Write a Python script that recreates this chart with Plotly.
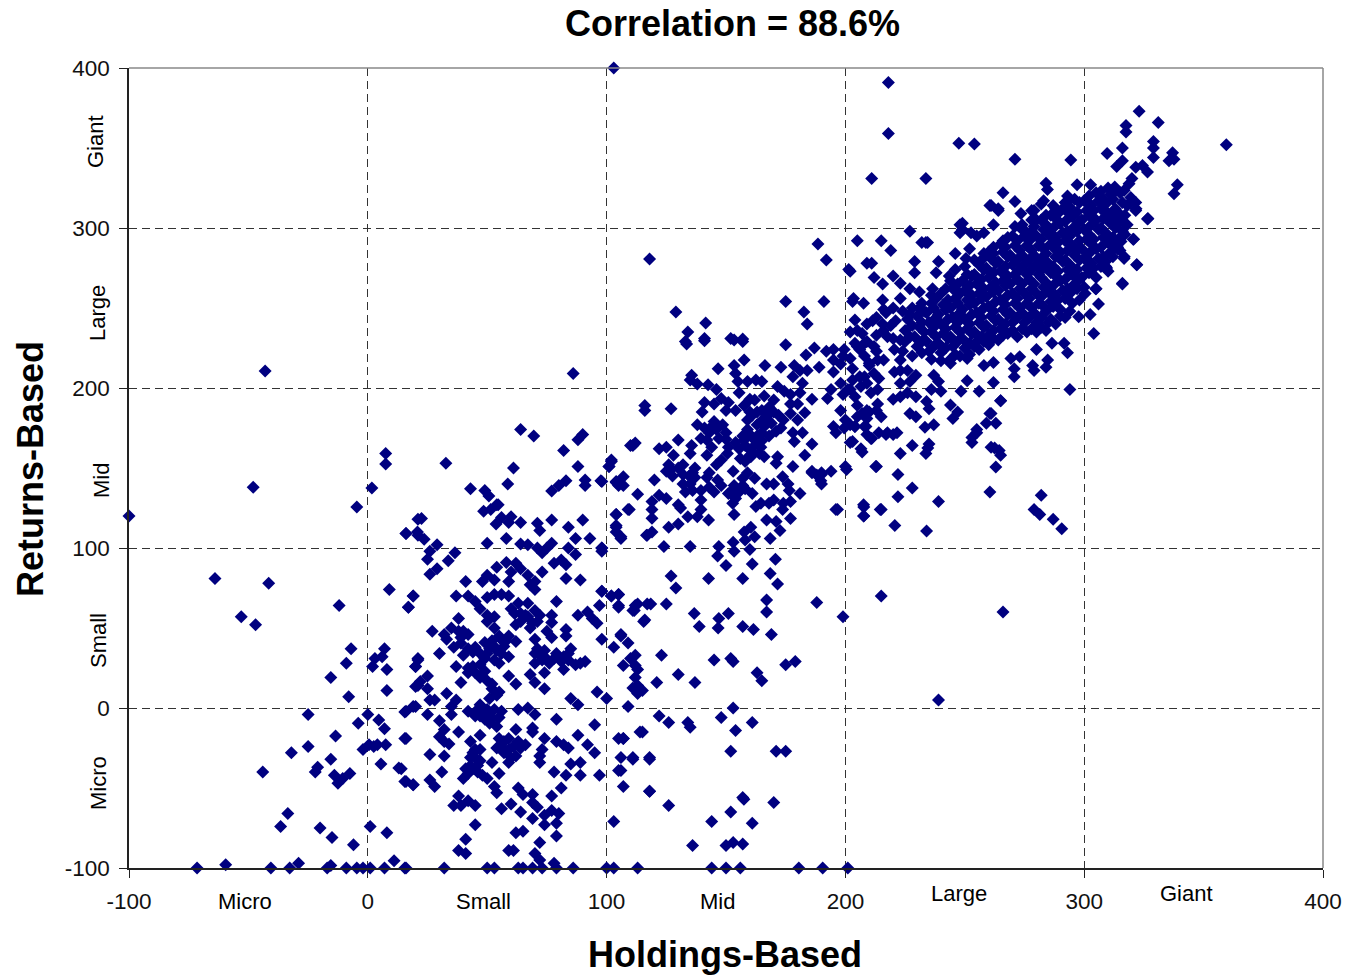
import plotly.graph_objects as go

title_text = "Correlation = 88.6%"
x_title = "Holdings-Based"
y_title = "Returns-Based"
tick_values = [-100, 0, 100, 200, 300, 400]
x_size_labels = ["Micro", "Small", "Mid", "Large", "Giant"]
y_size_labels = ["Micro", "Small", "Mid", "Large", "Giant"]

# (holdings-based, returns-based) readings, grouped by area of the chart
micro_funds = [
(-100,120),(-4.6,125.6),(16,109),(21,108),(21,118),(-64,81),(-41.5,78),(9,74),(19,70),(17,63),(-12,64),(-53,57),(-47,52),
(-7,37),(7,37),(6,32),(3,31),(2,26),(-9,28),(8,24),(-15.5,19),(21,30),(20,26),(21,14),(8,11),(-8,7),(20,1),(15.5,-2.5),
(-25,-4),(0,-4),(4.6,-7.5),(-4,-9.5),(7,-13),(-13.5,-17.5),(15.5,-19),(-25,-24),(-32,-28),(0.5,-23),(-2,-26),(2.5,-24),
(4,-23),(7.5,-23),(-15.5,-32),(-21,-37),(-22,-40),(5.5,-35),(13,-37.5),(-44,-40),(-14,-42),(-7.5,-41),(-10.5,-44),
(-12.5,-47),(15.5,-46),(19,-48),(-33.5,-66),(-36.5,-74),(-20,-75),(-15,-81),(1,-74),(8,-78),(-6,-85.5),(11,-95.5),
(-29,-97),(-59.5,-98),(-71.5,-100),(-40.6,-100),(-32.7,-100),(-17,-100),(-15.5,-98.5),(-9,-100),(-4.6,-100),(-2,-100),
(1,-100),(7,-100),(15.5,-100),(-43,210.6),(-48,138),(7.5,159),(7.5,152.5),(1.7,137.5),(32.7,153),
]

small_funds = [
(54.6,127),(48.5,123),(22.5,118.5),(16,109),(20.8,110),(23.6,105.5),(29,102),(26,98),(25,93),(36.5,97),(33.7,92),(29,87),(26,83.6),
(53.7,115),(56,119),(60,119.6),(59,116),(64,116),(71,115.4),(72,111),(77,117.5),(84,113),(90,117.5),(50,103),(58,106),(64,102.5),
(67,102),(71,100),(73,97),(77,103),(75,100),(84,100),(87,106),(93,106),(87,96),(98,100),(98,98),(104,121),(109,124),(104,114),
(104,110),(106,106),(117,108),(58,91),(54,88),(62,90.5),(64,87),(50,83),(48,79),(53,80),(60,85),(59,79),(67,83),(70,79),(68,77),
(70,74),(73,85),(78,90.5),(81,92.5),(83,89.5),(83,81),(89,80),(41,79),(19,70),(17,63),(37,70),(42,70),(45,66.6),(47,62),(50,69),
(53,71),(56,71),(59,70),(63,65.5),(67,65.5),(61.5,59),(64,59),(70,61),(72,58),(62,52),(68,50),(71,54),(79,66.5),(98,73),(102,70),
(105,71),(105,63),(97,64),(112,64),(111,61),(117,65),(116,55),(88,58),(92,60),(94,56),(96,53),(77,58),(77,53.5),(75,48),(77,44),
(83,49),(83,45),(50,58),(53,57),(50,54),(53,50),(38,56),(27,48),(35,50),(32,46),(40,48),(42,46),(36,38),(39,40.5),(42,37),(45,38),
(40,33),(47,34),(49,31),(56,42.6),(59,45),(62,41.6),(53,38.5),(57,38.5),(56,34),(59,32),(55,28),(30,34),(21,31),(20,26),(37,26),
(42,25),(45,22),(49,23),(47,19),(59,20),(62,15),(39,16),(70,43),(70,34),(72,33),(70,28),(74,32),(76,28),(79,34),(82,32),(85,37),
(84,30),(87,27),(91,29),(89,28),(82,24),(74,22),(68,21),(70,16),(74,12),(98,43),(103,38),(106,45),(109,40.6),(112,33),(107,26.5),
(112,26.5),(112,19),(111,12.5),(113,9),(96,10),(100,6),(109,1),(85,6),(88,2),(25,20),(22,16.5),(20,13.5),(25,12),(33,9),(26,5),
(28,5),(19,1),(16,-2),(25,-4),(37,5),(35,1),(35,-4),(30,-8),(52,12),(55,10),(51,6),(47,2),(42,-2),(45,-5),(48,-3),(51,-5),(53,-1),
(56,-2),(51,-9.5),(54,-11.5),(63,-1),(67,0),(70,-4),(79,-7),(95,-10.5),(69,-12.5),(69,-15),(62,-13.5),(32,-13.5),(38,-15),(30,-18),
(32,-21),(34,-22.5),(47,-17),(43,-21),(55,-19),(59,-19),(54,-25),(59,-26),(63,-21),(66,-23),(62,-30),(59,-34),(16,-19),(74,-19),
(73,-26),(72,-30),(72,-34),(79,-21),(82,-23),(84,-25),(88,-17),(92,-23),(95,-28),(105,-19),(107,-19),(114,-15),(111,-32),(105,-39),
(118,-31),(26,-29),(32,-30),(45,-26),(45,-31),(43,-36),(46,-36),(52,-34),(55,-41),(42,-41),(40,-44),(48,-42),(50,-44),(31,-40),
(14,-38),(16,-46),(19,-48),(26,-45),(28,-49),(85,-35),(89,-34),(78,-40),(83,-42),(89,-42),(97,-42),(107,-49),(118,-52),(53,-49),
(54,-53),(63,-50),(65,-54),(69,-54),(69,-59),(71,-62),(81,-50),(77,-55),(38,-55),(36,-61),(39,-61),(42,-58),(45,-61),(56,-63),
(60,-60),(64,-65),(69,-69),(74,-67),(77,-64),(80,-66),(74,-73),(79,-72),(103,-71),(45,-73),(41,-82),(38,-89),(41,-91),(62,-78),
(65,-77),(79,-80),(72,-84),(59,-89),(61,-89),(70,-91),(72,-95),(16,-100),(32,-100),(50,-100),(53,-100),(63,-100),(65,-100),(69,-100),
(73,-100),(78,-97),(79,-100),(86,-100),(100,-100),(103,-100),(113,-100),(43,137),(49,136),(50.7,132.5),(54,127),(51.5,124),
(61,150),(58.6,140),(64,174),(69.5,170),(82,161),(88,151),(90,171),(88,167.6),(83,142),(80,139),(77,135.6),(91,142.5),(91,139),
(97.6,142),(102,154),(101,151),(110,164),(112,165.6),(104,141),(107,139),(86,209),
]

small_blobs = [
(52,42),(55,45),(58,42),(54,36),(51,37),(49,41),(50,34),(53,30),(44,-28),(47,-33),(44,-38),(41,-38),(46,-40),(43,-31),(47,-26),
(56,-24),(57,-28),(61,-24),(57,-21),(64,-25),(60,-31),(66,58),(60,62),(64,54),(67,57),(69,53),(73,30),(71,37),(74,36),(78,31),(81,29),(84,34),
(39,44),(44,35),(38,48),(33,43),(46,-1),(50,-1),(52,-7),(55,-6),(49,-7),(47,-5),(42,22),(44,26),(47,27),(50,17),(52,15),(54,8),
]

mid_funds = [
(133.5,227.5),(141,229.6),(153.4,230),(157,229),(175,227),(157.6,217.5),(153.4,214),(146.7,212),(135.6,208),(166.3,214),(173,213),
(178.6,214),(181,211),(184,211),(189,213),(178,207),(182,203),(183.5,220.6),(187,225),(192,223),(195,224),(199.5,224),(204,228),
(198,215),(202,218.5),(195,217.5),(209,229),(208,220),(213.5,217.5),(212,209),(206,207),(209,203),(198,203),(201,199),(194,199),
(192.5,193.5),(204,194.6),(210.7,197),(213.5,199),(213.5,190),(198,186),(200,180),(205,182),(210,185),(195,176),(196,172),(199.5,175),
(204,176),(208.6,176),(211,168.5),(202,166),(207,160),(213,151),(200.5,149),(154,209),(155,204),(159,204),(162.5,205),(165,204),
(138,202.5),(142.5,202),(146,199),(155.5,197),(171.6,201),(174.4,198),(181,197),(186,193),(148,193.5),(145,190),(141,191),(140,185),
(150,186),(154,186),(157.6,189),(162,192.5),(166,195),(170,192.5),(177,190),(177,184),(183,184.6),(180,180),(170,185),(167,182),
(163,185),(159,180),(174,180),(173,175),(171,173),(178,172),(182,172),(178.6,166.5),(168,170),(164.6,179),(138,177),(141,175),(145,179),
(148.6,177),(139.5,168.5),(142,167.5),(147,168.5),(150,168),(144,163),(159,174),(157.6,167.5),(162,167.5),(155.5,162),(160.4,161),
(164.6,163),(166,157),(156,156),(160.4,157),(130,167.5),(135.6,164),(111,164),(122,162),(125,163),(128,158),(135,159),(142,158),
(148,155),(150.6,159),(146,152),(171.6,157),(171,153),(183,158),(186,165),(178,151),(186,148),(190,146),(194,148),(190,140),(102,155),
(101,151),(126,152),(125,148),(127.6,145),(132,152),(137,150),(134.6,145),(132,140),(135,140),(133,135),(143,147),(146.5,142.5),(143,138),
(139.5,136),(145,135),(153,148),(159,147),(157,143.6),(162,143.6),(153.4,139),(151,134),(155.5,135),(161,134),(167,140),(170,140),
(173.7,144.6),(176,140),(176.5,136),(181,134),(120,142.5),(107,144.6),(104,141.5),(105,139),(98,141.5),(113,133.6),(122,133),(125,131),
(119,129),(130,127),(131,125),(139.5,130),(139.5,124),(152.8,128),(153.4,121),(164.6,128),(162.5,126),(168,128),(170,130),(174,128),
(177,129),(173.7,124),(196.7,124),(207.6,127),(207.6,120),(214.6,124),(109.5,124),(104,121),(119,124),(119,118.6),(134,119.6),(138,119.6),
(142.7,117.5),(130,115),(126,113),(104,113),(106,107),(119,110),(116.7,108),(177,118.5),(167,117.5),(171,116.5),(172.6,111),(160.4,113),
(157.6,110),(162,107),(158,105),(168.5,106),(153,103.6),(147,101),(153.4,98),(160,99),(146.5,95),(150,89),(161,90),(170.7,93),(124,101),
(135,101),(98,100),(127,82.5),(129,75),(142.7,81),(157,81),(168.5,84),(171.6,77.5),(188,66),(199,57),(215,70),(167,67.5),(167,60),
(136.7,59),(151,59),(147,56),(146.7,50),(138.8,51),(157,51),(161.5,49),(169,46),(115.5,54),(125,65),(118.5,65),(113,65),(111.6,61),
(105,64),(105,71),(102,70),(98,73),(106,46),(110,31),(113,24),(113,14),(121,16),(115,11),(123,33),(130,21),(137,16),(122,-5),(126,-9),
(134,-9),(135,-12),(115,-15),(107,-19),(106,-31),(111,-31),(118,-32),(106,-39),(118,-52),(126,-61),(136,-86),(144,-71),(150,-86),
(152,-65),(157,-56),(157.5,-57),(161,-72),(157,-85),(153,-84),(148,-6),(153,0),(154,-14),(161,-9),(152,-27),(171,-27),(175,-27),
(170,-59),(145,30),(152,31),(153,29),(163,22),(165,17),(175,27),(179,29),(144,-100),(150,-100),(156,-100),(180.5,-100),(190.5,-100),
(201,-100),(103,400),(118,280.6),(129,247.5),(134,235),(133,229),(141.5,240.6),(141,231),(152,231),(157,230.6),(175,254),(182.6,247.5),
(184,240),(203,254),(191,254),(135,205),(116,189),(116,186),(127,187),(266,60),(239,5),
]

mid_blobs = [
(157,170),(160,171),(163,170),(158,164),(162,164),(165,167),(160,158),(164,159),(158,154),(163,177),(161,183),(165,186),(168,188),
(172,183),(166,176),(160,185),(169,178),(195,210),(199,220),(203,212),(206,224),(210,214),(203,205),(199,196),(205,189),(202,177),
(132,146),(137,144),(130,150),(127,149),(136,136),(142,144),(148,139),(152,135),(157,139),(154,131),(158,137),(136,147),
(143,172),(146,174),(150,172),(144,176),(151,163),(154,166),(165,172),(160,193),(151,191),(180,190),(177,196),
]

large_scatter = [
(261,314),(264,312),(271,316.5),(273.5,309),(278,311),(282,315),(249,303),(227,298),(248,297),(252.6,297),(255,295),(258,297),(262,302),
(271,301),(274,299),(278,305),(205,292),(215,292),(219,286),(232,291),(234.4,291),(246,284),(250.5,281),(252,287),(209,278),(229,279),
(239,279),(229,272),(238,272),(243.5,270),(246,274),(202,273),(212,269),(215.6,265),(220,270),(223,265.5),(227,262),(231,260),(236.5,262),
(203.4,256),(207.6,253),(215.6,255),(216,249),(223,256),(220,250),(211.4,242),(215.6,240),(219,239),(204,242.5),(202,235),(207,234),
(213,233),(217.6,232),(223,230),(205,226),(213,223),(210,215.5),(220.5,224),(216,217.5),(223,217.5),(220.5,210),(223,211),(229.5,208),
(226,211),(208,207),(202,199),(206.5,201),(214,206),(223,203),(227,204),(237,208),(239,204),(236,199),(240,198),(248.4,198),(251,204.6),
(256,198),(262,203.5),(265,192),(220,193),(223,194.6),(226,197),(229.5,194.6),(234,191.5),(235,187),(244,189.4),(247,185),(245,181),
(227,184),(229.5,182),(260.5,184),(263,178),(237,177),(233.3,175.5),(221.6,172),(217.6,172),(214,172),(210.7,168.5),(207,184),(209,186),
(213,186),(215,182),(209,181),(204,176),(208,176),(203,166.5),(206.5,162),(228,164),(235,165),(255,172),(253,166),(261,163),(264.4,161),
(316,265.4),(305,262),(300.4,259),(306,252.5),(302.5,246),(304,234),(297.7,244.6),(291.6,228),(293,222),(286.5,228),(280,224),(284.7,217.5),
(284,213),(279,211),(278.4,214),(270.7,212),(270.7,207),(273,219.6),(269.3,218.5),(262,216),(258,214),(251,218.5),(244,215.5),(294,199),
(322,277),(316.8,282),(320.7,293),(314,287),(315.4,291.5),(309,276),(326.5,305.6),(321.7,312),
(218,391),(218,359),(247.5,353),(254,352.5),(233.7,331),(211,331),(271,343),(266,322),(260.5,314),(264,311),(248,302),(249,299),(233.7,291),
(188.5,290),(192,280),(201.4,274),(211,278),(282,133),(279,124),(281.4,121),(290.6,112),(287,118),(260.5,135),(263,150.6),(265,158),
(262.5,162.5),(253,169),(255,174),(259,178),(261,184),(265,192),(239,129),(228,137.5),(222,132),(215,124),(207.7,125.6),(207.7,120),
(220.7,114),(234,110.6),(200,151),(190,147),(188,145.6),(186,147),(196,124),(212.7,151),(222,146),(234.5,162.5),(233.7,159),(223,159),
(217,171),(209,171),(220,171),(189.7,142),
]

giant_scatter = [
(323,373),(331,366),(317.5,364),(317.5,360),(329,354),(359.5,352),(329,350),(337,347),(316,350),(309.6,346.5),(329,344),(294.4,342.5),
(335.5,342),(337.6,343),(316,342),(313.6,338.5),(324.4,339),(321.6,338),(326.5,335),(320,331),(339,327),(337.6,321.4),(284,328),(284.6,324),
(297,327),(302.7,327),(312.8,325.6),(318.8,327.7),(316.7,323.5),(293,320),(319.5,319),(321.6,316),(321.6,311),(326.7,306),(320.5,293),
(315,294),(314,288),(316.7,281),(322,277),(309.4,275),(316,265),(304.8,262),(283,317),(279,311),(287,314),
]

dense_core = [
(225,229),(225,236),(226,243),(230,226),(229,232),(231,238),(230,245),(231,250),
(235,223),(234,229),(236,235),(235,241),(234,247),(236,253),(240,222),(239,228),(241,234),(240,240),(239,246),(241,252),(240,259),
(245,226),(244,232),(246,238),(245,244),(244,250),(246,256),(245,262),(244,267),(250,225),(249,231),(251,237),(250,243),(249,249),(251,255),(250,261),(249,267),(251,271),
(255,229),(254,235),(256,241),(255,247),(254,253),(256,259),(255,265),(254,271),(256,277),(260,233),(259,239),(261,245),(260,251),(259,257),(261,263),(260,269),(259,275),(261,281),(260,285),
(265,237),(264,243),(266,249),(265,255),(264,261),(266,267),(265,273),(264,279),(266,285),(265,290),(270,241),(269,247),(271,253),(270,259),(269,265),(271,271),(270,277),(269,283),(271,289),(270,295),
(275,241),(274,247),(276,253),(275,259),(274,265),(276,271),(275,277),(274,283),(276,289),(275,295),(274,300),(280,241),(279,247),(281,253),(280,259),(279,265),(281,271),(280,277),(279,283),(281,289),(280,295),(279,301),
(285,241),(284,248),(286,254),(285,260),(284,266),(286,272),(285,278),(284,284),(286,290),(285,296),(284,302),(286,308),(290,249),(289,255),(291,261),(290,267),(289,273),(291,279),(290,285),(289,291),(291,297),(290,303),(289,309),(291,312),
(295,253),(294,259),(296,265),(295,271),(294,277),(296,283),(295,289),(294,295),(296,301),(295,307),(294,313),(296,318),(300,263),(299,269),(301,275),(300,281),(299,287),(301,293),(300,299),(299,305),(301,311),(300,317),
(305,269),(304,275),(306,281),(305,287),(304,293),(306,299),(305,305),(304,311),(306,317),(305,322),(310,273),(309,279),(311,285),(310,291),(309,297),(311,303),(310,309),(309,315),(311,321),(310,325),
(315,286),(314,292),(316,298),(315,304),(314,310),(316,316),(315,322),
]

dense_core_between = [
(227,232),(228,239),(227,246),(232,229),(233,235),(232,241),(233,248),(237,226),(238,232),(237,238),(238,244),(237,250),(238,256),
(242,225),(243,231),(242,237),(243,243),(242,249),(243,255),(242,262),(247,229),(248,235),(247,241),(248,247),(247,253),(248,259),(247,265),
(252,228),(253,234),(252,240),(253,246),(252,252),(253,258),(252,264),(253,270),(257,232),(258,238),(257,244),(258,250),(257,256),(258,262),(257,268),(258,274),(257,280),
(262,236),(263,242),(262,248),(263,254),(262,260),(263,266),(262,272),(263,278),(262,284),(267,240),(268,246),(267,252),(268,258),(267,264),(268,270),(267,276),(268,282),(267,288),
(272,244),(273,250),(272,256),(273,262),(272,268),(273,274),(272,280),(273,286),(272,292),(277,244),(278,250),(277,256),(278,262),(277,268),(278,274),(277,280),(278,286),(277,292),(278,298),
(282,244),(283,251),(282,257),(283,263),(282,269),(283,275),(282,281),(283,287),(282,293),(283,299),(282,305),(287,251),(288,258),(287,264),(288,270),(287,276),(288,282),(287,288),(288,294),(287,300),(288,306),
(292,256),(293,262),(292,268),(293,274),(292,280),(293,286),(292,292),(293,298),(292,304),(293,310),(292,316),(297,262),(298,268),(297,274),(298,280),(297,286),(298,292),(297,298),(298,304),(297,310),(298,316),
(302,272),(303,278),(302,284),(303,290),(302,296),(303,302),(302,308),(303,314),(302,320),(307,276),(308,282),(307,288),(308,294),(307,300),(308,306),(307,312),(308,318),(307,323),
(312,282),(313,288),(312,294),(313,300),(312,306),(313,312),(312,318),(313,323),(317,296),(318,302),(317,308),(318,314),
]

core_lower_edge = [
(205,236),(209,240),(213,244),(217,247),(221,242),(224,248),(208,228),(212,226),(216,236),(220,231),(224,223),(228,220),(232,222),(236,218),
(240,217),(244,218),(248,220),(252,221),(256,224),(260,227),(264,230),(268,234),(272,232),(276,235),(280,235),(284,236),(288,240),(292,244),
(240,226),(246,221),(254,226),(258,229),(262,231),(266,233),(270,236),(274,237),(278,237),(282,238),(286,243),(290,245),(294,248),(298,255),
(250,276),(254,280),(258,284),(262,288),(266,292),(268,294),(274,302),(280,305),(284,308),(288,312),(294,318),(232,253),(236,258),(228,250),
]

all_funds = (micro_funds + small_funds + small_blobs + mid_funds + mid_blobs + large_scatter
             + giant_scatter + dense_core + dense_core_between + core_lower_edge)
holdings_based = [p[0] for p in all_funds]
returns_based = [p[1] for p in all_funds]

FONT = "Liberation Sans, Arial, sans-serif"
fig = go.Figure(go.Scatter(
    x=holdings_based, y=returns_based, mode="markers", cliponaxis=False,
    marker=dict(symbol="diamond", size=10, color="#000080", line=dict(width=0)),
    hoverinfo="skip"))

axis_common = dict(
    tickmode="array", tickvals=tick_values, ticktext=[str(v) for v in tick_values],
    ticks="outside", ticklen=8, tickcolor="#222", tickwidth=1,
    showline=True, linecolor="#222", linewidth=1.5, automargin=False,
    showgrid=True, gridcolor="#333", gridwidth=1, griddash="8px,5px",
    zeroline=False, tickfont=dict(family=FONT, size=22.5, color="#111"),
    range=[-100, 400],
)
fig.update_layout(
    width=1349, height=975, autosize=False, showlegend=False,
    paper_bgcolor="white", plot_bgcolor="white",
    margin=dict(l=129, r=26, t=68, b=107, autoexpand=False),
    xaxis=dict(axis_common, ticklabelstandoff=4),
    yaxis=dict(axis_common, ticklabelstandoff=5),
)

def label(text, x, y, size, bold=False, angle=0):
    fig.add_annotation(text=f"<b>{text}</b>" if bold else text, xref="paper", yref="paper",
                       x=(x - 129) / 1194, y=(868 - y) / 800, showarrow=False, textangle=angle,
                       font=dict(family=FONT, size=size, color="black"), xanchor="center", yanchor="middle")

label(title_text, 732, 23, 36, True)
label(x_title, 725, 955, 36, True)
label(y_title, 30, 469, 36, True, -90)
for t, x, y in zip(x_size_labels, [245, 484, 717, 959, 1186], [901, 901, 901, 893, 893]):
    label(t, x, y, 22)
for t, x, y in zip(y_size_labels, [98, 98, 101, 97, 95], [783, 641, 481, 313, 142]):
    label(t, x, y, 22, angle=-90)

fig.add_shape(type="line", xref="paper", yref="paper", x0=0, x1=1, y0=1, y1=1, line=dict(color="#888", width=1.5))
fig.add_shape(type="line", xref="paper", yref="paper", x0=1, x1=1, y0=0, y1=1, line=dict(color="#888", width=1.5))

fig.write_html("out.html", config={"displayModeBar": False},
               post_script="document.body.style.margin='0';document.documentElement.style.overflow='hidden';")
